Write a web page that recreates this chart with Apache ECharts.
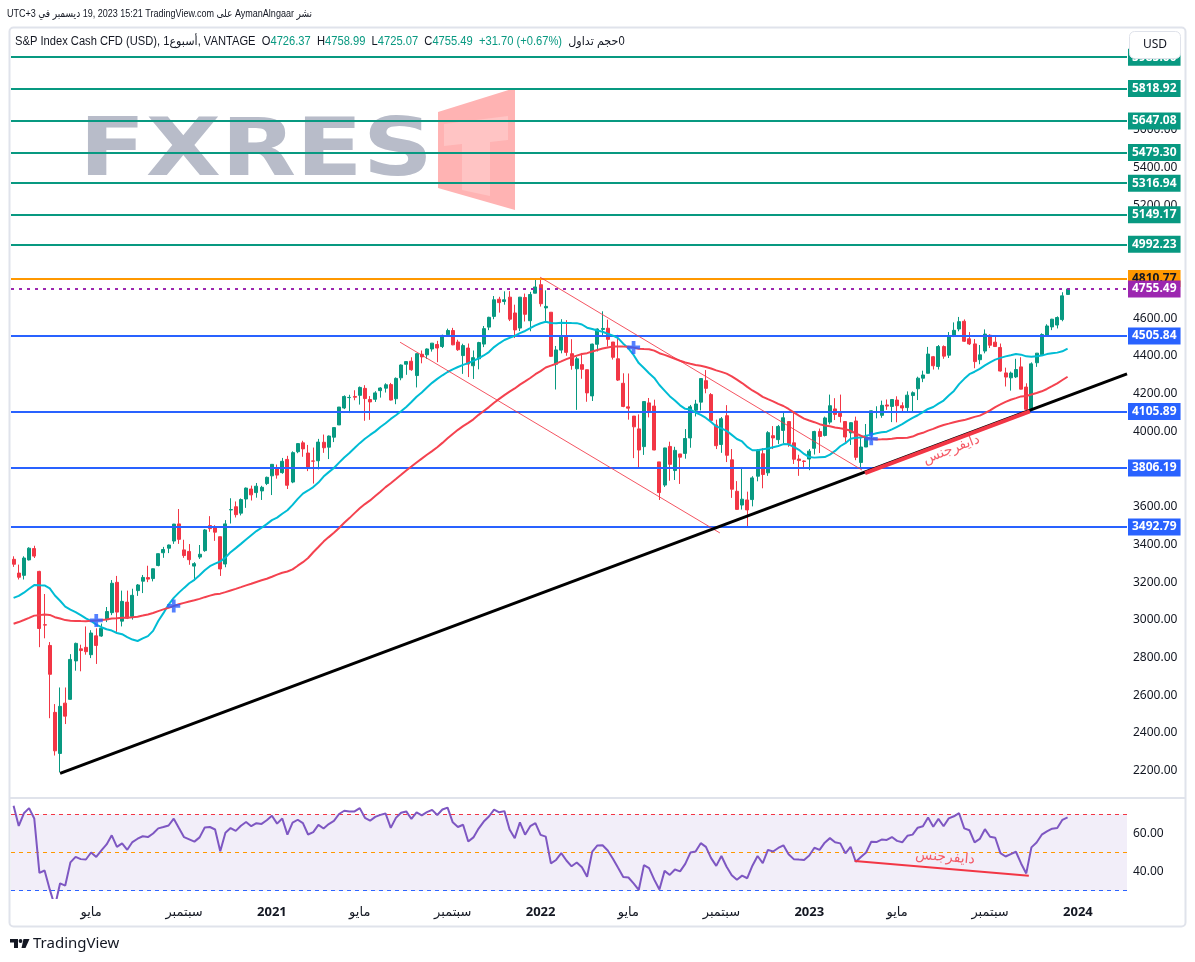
<!DOCTYPE html>
<html>
<head>
<meta charset="utf-8">
<script src="https://cdn.jsdelivr.net/npm/echarts@6/dist/echarts.min.js"></script>
<style>
html, body { margin: 0; padding: 0; background: #fff; }
#chart { width: 1195px; height: 962px; }
</style>
</head>
<body>
<div id="chart"></div>
<script>
// weekly closes before the visible range (Dec 31 2018 .. Jan 13 2020), used only to warm up the MAs and RSI
var warmupCloses = [2532, 2596, 2671, 2665, 2707, 2708, 2776, 2793, 2804, 2743, 2822, 2801, 2834, 2893,
  2907, 2905, 2940, 2946, 2881, 2860, 2826, 2752, 2873, 2887, 2950, 2942, 2990, 3014, 2977, 3026,
  2932, 2919, 2889, 2847, 2926, 2979, 3007, 2992, 2962, 2952, 2970, 2986, 3023, 3067, 3093, 3120,
  3110, 3141, 3146, 3169, 3221, 3240, 3235, 3265, 3330];

// weekly bars from Jan 20 2020: [open, close, low, high]
var candles = [
  [3321, 3295, 3281, 3337], [3248, 3226, 3214, 3293], [3236, 3328, 3214, 3337], [3318, 3380, 3315, 3385],
  [3378, 3338, 3328, 3393], [3257, 2954, 2855, 3260], [2974, 2972, 2902, 3137], [2864, 2711, 2478, 2882],
  [2509, 2305, 2280, 2553], [2291, 2541, 2192, 2641], [2558, 2489, 2447, 2641], [2578, 2790, 2576, 2818],
  [2782, 2875, 2730, 2879], [2846, 2837, 2727, 2868], [2854, 2831, 2815, 2965], [2815, 2930, 2797, 2945],
  [2915, 2864, 2766, 2955], [2914, 2955, 2910, 2980], [3005, 3044, 2988, 3068], [3038, 3194, 3025, 3211],
  [3199, 3041, 2936, 3233], [2993, 3098, 2965, 3155], [3094, 3009, 3004, 3155], [3018, 3130, 3001, 3165],
  [3155, 3185, 3127, 3190], [3205, 3225, 3142, 3238], [3224, 3216, 3200, 3287], [3219, 3271, 3204, 3272],
  [3288, 3351, 3284, 3352], [3356, 3373, 3329, 3387], [3380, 3397, 3354, 3399], [3418, 3508, 3403, 3509],
  [3509, 3427, 3403, 3588], [3371, 3341, 3329, 3425], [3363, 3319, 3292, 3402], [3285, 3298, 3209, 3306],
  [3333, 3348, 3323, 3397], [3367, 3477, 3361, 3482], [3500, 3484, 3467, 3550], [3493, 3465, 3419, 3502],
  [3441, 3270, 3233, 3441], [3296, 3509, 3279, 3529], [3583, 3585, 3511, 3645], [3600, 3558, 3543, 3628],
  [3566, 3638, 3554, 3644], [3641, 3699, 3594, 3702], [3694, 3663, 3633, 3712], [3675, 3709, 3648, 3726],
  [3684, 3703, 3636, 3711], [3723, 3756, 3715, 3760],
  // 2021
  [3764, 3825, 3662, 3826], [3803, 3768, 3749, 3824], [3781, 3841, 3775, 3859], [3851, 3714, 3694, 3870],
  [3731, 3887, 3725, 3894], [3892, 3935, 3884, 3937], [3939, 3907, 3865, 3950], [3885, 3811, 3789, 3928],
  [3843, 3842, 3723, 3914], [3844, 3943, 3798, 3960], [3942, 3913, 3886, 3983], [3916, 3975, 3853, 3978],
  [3969, 4020, 3943, 4020], [4034, 4129, 4034, 4129], [4124, 4185, 4118, 4191], [4179, 4180, 4097, 4194],
  [4185, 4181, 4165, 4218], [4191, 4233, 4142, 4238], [4228, 4174, 4056, 4245], [4169, 4156, 4061, 4187],
  [4170, 4204, 4156, 4213], [4216, 4230, 4179, 4234], [4229, 4247, 4206, 4255], [4248, 4166, 4164, 4257],
  [4173, 4281, 4144, 4286], [4284, 4352, 4271, 4355], [4356, 4370, 4300, 4372], [4372, 4327, 4321, 4393],
  [4296, 4412, 4233, 4415], [4409, 4395, 4361, 4429], [4406, 4437, 4385, 4440], [4437, 4468, 4423, 4468],
  [4461, 4442, 4367, 4480], [4450, 4509, 4442, 4513], [4513, 4535, 4513, 4545], [4535, 4459, 4457, 4549],
  [4474, 4433, 4427, 4486], [4402, 4455, 4305, 4465], [4442, 4357, 4288, 4466], [4348, 4391, 4278, 4429],
  [4385, 4471, 4329, 4475], [4463, 4545, 4447, 4559], [4553, 4605, 4537, 4608], [4610, 4698, 4595, 4718],
  [4701, 4683, 4630, 4714], [4689, 4698, 4672, 4743], [4712, 4595, 4585, 4744], [4628, 4538, 4495, 4672],
  [4548, 4712, 4532, 4713], [4710, 4621, 4583, 4731], [4587, 4726, 4531, 4740], [4733, 4766, 4733, 4808],
  // 2022
  [4778, 4677, 4662, 4811], [4655, 4663, 4582, 4748], [4632, 4398, 4395, 4632], [4356, 4432, 4222, 4453],
  [4431, 4501, 4414, 4595], [4505, 4419, 4401, 4590], [4412, 4349, 4327, 4489], [4332, 4385, 4114, 4395],
  [4354, 4329, 4279, 4416], [4327, 4204, 4157, 4327], [4188, 4463, 4161, 4465], [4462, 4543, 4424, 4546],
  [4541, 4546, 4501, 4637], [4547, 4488, 4450, 4593], [4474, 4393, 4381, 4474], [4385, 4272, 4267, 4512],
  [4255, 4132, 4128, 4308], [4130, 4123, 4062, 4307], [4081, 4024, 3858, 4081], [4013, 3901, 3810, 4090],
  [3919, 4158, 3875, 4158], [4151, 4109, 4074, 4177], [4134, 3901, 3900, 4168], [3838, 3675, 3636, 3838],
  [3715, 3912, 3705, 3913], [3920, 3825, 3738, 3945], [3792, 3899, 3742, 3918], [3880, 3863, 3721, 3880],
  [3883, 3962, 3855, 4012], [3965, 4130, 3913, 4140], [4112, 4145, 4079, 4167], [4155, 4280, 4111, 4280],
  [4269, 4228, 4202, 4325], [4195, 4058, 4057, 4203], [4034, 3924, 3906, 4062], [3930, 4067, 3886, 4076],
  [4083, 3873, 3837, 4139], [3849, 3693, 3647, 3906], [3682, 3586, 3584, 3736], [3609, 3640, 3585, 3806],
  [3636, 3583, 3491, 3680], [3638, 3753, 3602, 3762], [3762, 3901, 3735, 3905], [3881, 3771, 3698, 3911],
  [3780, 3993, 3764, 4001], [3977, 3965, 3906, 4028], [3956, 4026, 3933, 4034], [4005, 4072, 3937, 4100],
  [4052, 3934, 3918, 4052], [3939, 3852, 3827, 4100], [3853, 3845, 3764, 3876], [3843, 3840, 3800, 3846],
  // 2023
  [3853, 3895, 3794, 3906], [3910, 3999, 3877, 4003], [3999, 3973, 3885, 4015], [3978, 4071, 3973, 4078],
  [4049, 4136, 4037, 4195], [4119, 4090, 4060, 4176], [4096, 4079, 4047, 4195], [4052, 3970, 3943, 4052],
  [3992, 4046, 3928, 4048], [4055, 3862, 3847, 4078], [3835, 3917, 3808, 3964], [3917, 3971, 3917, 4039],
  [3982, 4109, 3951, 4110], [4102, 4105, 4069, 4133], [4085, 4138, 4072, 4163], [4140, 4134, 4114, 4169],
  [4132, 4169, 4049, 4170], [4166, 4136, 4048, 4186], [4136, 4124, 4098, 4154], [4126, 4192, 4099, 4212],
  [4190, 4205, 4103, 4212], [4226, 4282, 4166, 4290], [4282, 4299, 4261, 4322], [4308, 4410, 4307, 4448],
  [4396, 4348, 4328, 4400], [4344, 4450, 4328, 4458], [4450, 4399, 4385, 4456], [4404, 4505, 4389, 4527],
  [4505, 4536, 4500, 4578], [4543, 4582, 4531, 4607], [4584, 4478, 4474, 4594], [4491, 4464, 4458, 4527],
  [4464, 4370, 4335, 4490], [4380, 4406, 4356, 4458], [4426, 4516, 4414, 4541], [4510, 4457, 4442, 4515],
  [4473, 4450, 4448, 4511], [4445, 4320, 4317, 4466], [4310, 4288, 4238, 4338], [4284, 4309, 4216, 4317],
  [4289, 4328, 4283, 4385], [4342, 4224, 4223, 4393], [4235, 4117, 4103, 4255], [4120, 4358, 4113, 4366],
  [4364, 4415, 4342, 4415], [4406, 4514, 4402, 4520], [4511, 4559, 4511, 4568], [4554, 4595, 4537, 4597],
  [4564, 4604, 4546, 4610], [4593, 4719, 4584, 4738], [4726.37, 4755.49, 4725.07, 4758.99]
];

var greenLevels = [5985, 5818.92, 5647.08, 5479.30, 5316.94, 5149.17, 4992.23];
var peakLevel = 4810.77;
var lastPrice = 4755.49;
var blueLevels = [4505.84, 4105.89, 3806.19, 3492.79];

// drawings, [bar index, price]
var trendLine = [[9, 2185], [215.5, 4305]];
var channelUpper = [[101.9, 4818], [164.2, 3795]];
var channelLower = [[74.8, 4473], [136.7, 3461]];
var priceDivergence = [[164.8, 3779], [196.7, 4106]];
var rsiDivergence = [[162.8, 45.4], [196.5, 37.7]];
var divergenceText = 'دايفرجنس';

var GREEN = '#089981', RED = '#f23645', BLUE = '#2962ff', ORANGE = '#ff9800', PURPLE = '#9c27b0';
var FONT = '"Noto Sans", "DejaVu Sans", sans-serif';
var HFONT = '"Liberation Sans", "DejaVu Sans", sans-serif';
var NBARS = 216;

var dates = [];
for (var i = 0; i < NBARS; i++) {
  dates.push(new Date(Date.UTC(2020, 0, 20 + 7 * i)).toISOString().slice(0, 10));
}

var W = warmupCloses.length;
var allCloses = warmupCloses.concat(candles.map(function (c) { return c[1]; }));

function sma(n) {
  return candles.map(function (c, i) {
    var k = i + W, s = 0;
    for (var j = k - n + 1; j <= k; j++) s += allCloses[j];
    return +(s / n).toFixed(2);
  });
}

function rsi(n) {
  var up = 0, dn = 0, out = [];
  for (var k = 1; k < allCloses.length; k++) {
    var d = allCloses[k] - allCloses[k - 1];
    var g = Math.max(d, 0), l = Math.max(-d, 0);
    if (k <= n) { up += g / n; dn += l / n; }
    else { up = (up * (n - 1) + g) / n; dn = (dn * (n - 1) + l) / n; }
    out[k] = dn === 0 ? 100 : 100 - 100 / (1 + up / dn);
  }
  return candles.map(function (c, i) { return +out[i + W].toFixed(2); });
}

var ma20 = sma(20);
var ma50 = sma(50);
var rsi14 = rsi(14);

// cross signal is shown on the bar after the MAs swap sides
var crosses = [];
for (var i = 1; i < ma20.length - 1; i++) {
  if ((ma20[i] - ma50[i]) * (ma20[i - 1] - ma50[i - 1]) < 0) crosses.push([i + 1, ma50[i + 1]]);
}

function isMarkBar(i) {
  if (i === 0) return false;
  var m = +dates[i].slice(5, 7), pm = +dates[i - 1].slice(5, 7);
  return m !== pm && (m === 1 || m === 5 || m === 9);
}

function levelLine(v, color, textColor, type) {
  return {
    yAxis: v,
    lineStyle: { color: color, width: 2, type: type || 'solid' },
    label: { backgroundColor: color, color: textColor || '#fff' }
  };
}

var levelData = greenLevels.map(function (v) { return levelLine(v, GREEN); })
  .concat([levelLine(peakLevel, ORANGE, '#131722'), levelLine(lastPrice, PURPLE, '#fff', [3, 5])])
  .concat(blueLevels.map(function (v) { return levelLine(v, BLUE); }));

var chart = echarts.init(document.getElementById('chart'), null, { renderer: 'canvas' });

var option = {
  animation: false,
  backgroundColor: '#fff',
  textStyle: { fontFamily: FONT },
  grid: [
    { left: 11, right: 68, top: 28, height: 769 },
    { left: 11, right: 68, top: 799, height: 99 }
  ],
  xAxis: [
    { type: 'category', gridIndex: 0, data: dates, boundaryGap: true,
      axisLine: { show: false }, axisTick: { show: false }, axisLabel: { show: false }, splitLine: { show: false } },
    { type: 'category', gridIndex: 1, data: dates, boundaryGap: true,
      axisLine: { show: false }, axisTick: { show: false }, splitLine: { show: false },
      axisLabel: {
        interval: function (idx) { return isMarkBar(idx); },
        formatter: function (value) {
          var m = +value.slice(5, 7);
          if (m === 1) return '{y|' + value.slice(0, 4) + '}';
          return m === 5 ? 'مايو' : 'سبتمبر';
        },
        color: '#131722', fontSize: 13, margin: 8, fontFamily: FONT,
        rich: { y: { fontSize: 13, fontWeight: 'bold', color: '#131722', fontFamily: FONT } }
      } },
    { type: 'value', gridIndex: 0, min: -0.5, max: NBARS - 0.5, show: false },
    { type: 'value', gridIndex: 1, min: -0.5, max: NBARS - 0.5, show: false }
  ],
  yAxis: [
    { type: 'value', gridIndex: 0, position: 'right', min: 2060, max: 6140, interval: 20, scale: true,
      axisLine: { show: false }, axisTick: { show: false }, splitLine: { show: false },
      axisLabel: { color: '#131722', fontSize: 12, margin: 6, fontFamily: FONT,
        formatter: function (v) { return (v % 200 === 0 && v >= 2200 && v <= 6000) ? v.toFixed(2) : ''; } } },
    { type: 'value', gridIndex: 1, position: 'right', min: 26, max: 78, interval: 2,
      axisLine: { show: false }, axisTick: { show: false }, splitLine: { show: false },
      axisLabel: { color: '#131722', fontSize: 12, margin: 6, fontFamily: FONT,
        formatter: function (v) { return (v === 40 || v === 60) ? v.toFixed(2) : ''; } } }
  ],
  series: [
    {
      type: 'candlestick', xAxisIndex: 0, yAxisIndex: 0, data: candles, barWidth: '66%', z: 2,
      itemStyle: { color: GREEN, color0: RED, borderColor: GREEN, borderColor0: RED, borderWidth: 1 }
    },
    {
      name: 'levels', type: 'line', xAxisIndex: 0, yAxisIndex: 0, z: 4, silent: true,
      data: candles.map(function (c) { return c[1]; }), symbol: 'none', lineStyle: { opacity: 0 },
      markLine: {
        silent: true, symbol: ['none', 'none'], animation: false,
        label: { show: true, position: 'end', distance: 1, fontSize: 12, fontWeight: 'bold', fontFamily: FONT,
          padding: [3, 4, 2, 4], formatter: function (p) { return p.value.toFixed(2); } },
        data: levelData
      }
    },
    { type: 'line', xAxisIndex: 0, yAxisIndex: 0, data: ma20, symbol: 'none', z: 5,
      lineStyle: { color: '#00bcd4', width: 2 } },
    { type: 'line', xAxisIndex: 0, yAxisIndex: 0, data: ma50, symbol: 'none', z: 5,
      lineStyle: { color: '#f4424f', width: 2 } },
    { type: 'line', xAxisIndex: 2, yAxisIndex: 0, data: channelUpper, symbol: 'none', z: 6,
      lineStyle: { color: RED, width: 1, opacity: 0.85 } },
    { type: 'line', xAxisIndex: 2, yAxisIndex: 0, data: channelLower, symbol: 'none', z: 6,
      lineStyle: { color: RED, width: 1, opacity: 0.85 } },
    { type: 'line', xAxisIndex: 2, yAxisIndex: 0, data: trendLine, symbol: 'none', z: 7,
      lineStyle: { color: '#000', width: 3 } },
    { type: 'line', xAxisIndex: 2, yAxisIndex: 0, data: priceDivergence, symbol: 'none', z: 7,
      lineStyle: { color: RED, width: 4 } },
    { type: 'scatter', xAxisIndex: 2, yAxisIndex: 0, data: [[181.5, 3905]], symbolSize: 1, z: 8,
      itemStyle: { color: 'rgba(0,0,0,0)' },
      label: { show: true, position: 'inside', rotate: 21, formatter: divergenceText,
        color: RED, fontSize: 14, fontFamily: FONT } },
    { type: 'scatter', xAxisIndex: 2, yAxisIndex: 0, data: crosses, z: 9,
      symbol: 'path://M5,0H9V5H14V9H9V14H5V9H0V5H5Z', symbolSize: 13, itemStyle: { color: BLUE } },
    {
      type: 'line', xAxisIndex: 1, yAxisIndex: 1, data: rsi14, symbol: 'none', z: 5,
      lineStyle: { color: '#7e57c2', width: 2 },
      markArea: { silent: true, itemStyle: { color: 'rgba(126,87,194,0.1)' }, data: [[{ yAxis: 30 }, { yAxis: 70 }]] },
      markLine: {
        silent: true, symbol: ['none', 'none'], label: { show: false },
        lineStyle: { type: [4, 4], width: 1 },
        data: [
          { yAxis: 70, lineStyle: { color: RED } },
          { yAxis: 50, lineStyle: { color: ORANGE } },
          { yAxis: 30, lineStyle: { color: BLUE } }
        ]
      }
    },
    { type: 'line', xAxisIndex: 3, yAxisIndex: 1, data: rsiDivergence, symbol: 'none', z: 6,
      lineStyle: { color: RED, width: 2 } },
    { type: 'scatter', xAxisIndex: 3, yAxisIndex: 1, data: [[180.3, 47.5]], symbolSize: 1, z: 8,
      itemStyle: { color: 'rgba(0,0,0,0)' },
      label: { show: true, position: 'inside', rotate: -5, formatter: divergenceText,
        color: RED, fontSize: 14, fontFamily: FONT } }
  ],
  graphic: [
    // watermark
    { type: 'text', z: -10, x: 79, y: 154, scaleX: 1.22,
      style: { text: 'FXRES', font: 'bold 80px "DejaVu Sans"', fill: '#b8bcc9', verticalAlign: 'middle' } },
    { type: 'polygon', z: -10, shape: { points: [[438, 112], [515, 88], [515, 210], [438, 188]] },
      style: { fill: '#ffb3b3' } },
    { type: 'polygon', z: -9, shape: { points: [[444, 124], [508, 116], [508, 140], [490, 142], [490, 196], [462, 190], [462, 144], [444, 146]] },
      style: { fill: '#ffc4c4' } },
    // frame
    { type: 'rect', z: 50, shape: { x: 9.5, y: 27.5, width: 1176, height: 899, r: 4 },
      style: { fill: 'none', stroke: '#e0e3eb', lineWidth: 2 } },
    { type: 'line', z: 50, shape: { x1: 10, y1: 798, x2: 1185, y2: 798 },
      style: { stroke: '#e0e3eb', lineWidth: 2 } },
    // header
    { type: 'text', z: 60, x: 7, y: 14, scaleX: 0.82,
      style: { text: 'UTC+3 \u200Eفي\u200E \u200Eديسمبر\u200E 19, 2023 15:21 TradingView.com \u200Eعلى\u200E AymanAlngaar \u200Eنشر',
        font: '11px ' + HFONT, fill: '#131722', verticalAlign: 'middle' } },
    { type: 'text', z: 60, x: 15, y: 42, scaleX: 0.93,
      style: { text: 'S&P Index Cash CFD (USD), 1\u200Eأسبوع\u200E, VANTAGE  {k|O}{g|4726.37}  {k|H}{g|4758.99}  {k|L}{g|4725.07}  {k|C}{g|4755.49}  {g|+31.70 (+0.67%)}  {k|\u200Eحجم تداول\u200E0}',
        font: '12px ' + HFONT, fill: '#131722', verticalAlign: 'middle',
        rich: { k: { fill: '#131722', font: '12px ' + HFONT }, g: { fill: GREEN, font: '12px ' + HFONT } } } },
    // currency button
    { type: 'rect', z: 60, shape: { x: 1129.5, y: 31.5, width: 51, height: 27, r: 5 },
      style: { fill: '#fff', stroke: '#e0e3eb', lineWidth: 1 } },
    { type: 'text', z: 61, x: 1155, y: 45,
      style: { text: 'USD', font: '12px ' + FONT, fill: '#131722', align: 'center', verticalAlign: 'middle' } },
    // footer logo
    { type: 'polygon', z: 60, shape: { points: [[10, 939], [18, 939], [18, 948], [14, 948], [14, 942.5], [10, 942.5]] },
      style: { fill: '#131722' } },
    { type: 'circle', z: 60, shape: { cx: 20.5, cy: 941, r: 1.9 }, style: { fill: '#131722' } },
    { type: 'polygon', z: 60, shape: { points: [[23.5, 939], [29.5, 939], [25.5, 948], [21.5, 948]] },
      style: { fill: '#131722' } },
    { type: 'text', z: 60, x: 33, y: 944,
      style: { text: 'TradingView', font: '15px ' + FONT, fill: '#131722', verticalAlign: 'middle' } }
  ]
};

chart.setOption(option);
</script>
</body>
</html>
